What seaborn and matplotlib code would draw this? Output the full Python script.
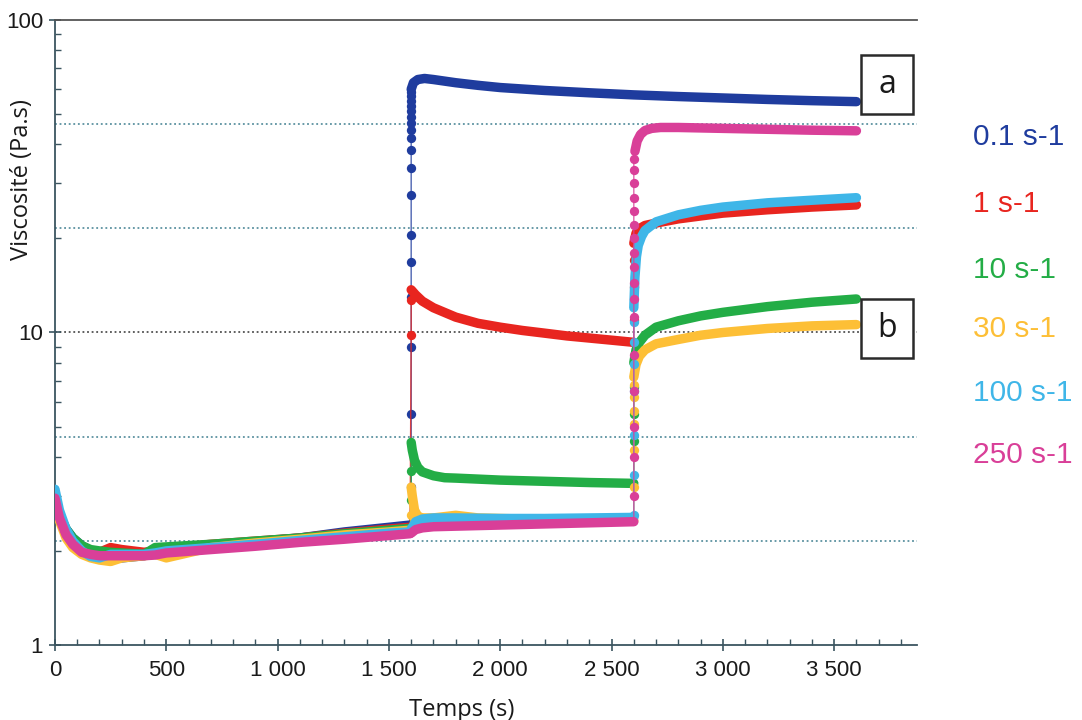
import seaborn as sns
import matplotlib.pyplot as plt
import pandas as pd
from matplotlib.ticker import FixedLocator, FuncFormatter, NullFormatter
from matplotlib.patches import Rectangle

# series labels and colours
names = ['0.1 s-1', '1 s-1', '10 s-1', '30 s-1', '100 s-1', '250 s-1']
colors = ['#1f3c9e', '#e8251f', '#23ad46', '#fdbf36', '#3fb6e8', '#d93f98']

# phase 1 : 0 - 1600 s (same time points for every run)
t_p1 = [0, 20, 50, 80, 120, 160, 200, 250, 300, 400, 450, 500, 700, 900, 1100, 1300, 1500, 1595]
blue_p1 = [2.8, 2.6, 2.35, 2.2, 2.08, 2.0, 1.95, 1.92, 1.9, 1.93, 1.98, 2.02, 2.08, 2.14, 2.2, 2.3, 2.38, 2.42]
red_p1 = [2.8, 2.55, 2.3, 2.15, 2.05, 2.0, 1.98, 2.05, 2.02, 1.98, 2.0, 2.03, 2.1, 2.15, 2.2, 2.28, 2.35, 2.38]
green_p1 = [2.85, 2.6, 2.35, 2.2, 2.08, 2.02, 2.0, 1.98, 1.97, 1.95, 2.05, 2.06, 2.1, 2.15, 2.2, 2.27, 2.33, 2.36]
orange_p1 = [2.9, 2.5, 2.2, 2.05, 1.95, 1.9, 1.87, 1.85, 1.9, 1.93, 1.95, 1.9, 2.05, 2.12, 2.18, 2.25, 2.3, 2.33]
lblue_p1 = [3.15, 2.7, 2.35, 2.15, 2.0, 1.92, 1.9, 1.95, 1.95, 1.95, 1.97, 2.0, 2.05, 2.1, 2.16, 2.22, 2.28, 2.3]
pink_p1 = [2.95, 2.55, 2.25, 2.1, 1.98, 1.95, 1.93, 1.93, 1.93, 1.93, 1.94, 1.97, 2.02, 2.07, 2.13, 2.18, 2.24, 2.27]

# jump at 1600 s (isolated points)
blue_j1 = [3.2, 5.5, 9, 13, 16.8, 20.5, 27.6, 33.6, 38.4, 41.9, 44.5, 46.8, 49, 51, 53, 55, 57, 59]
red_j1 = [9.8, 12.7]
green_j1 = [2.9, 3.6]
orange_j1 = [2.6]
lblue_j1 = []
pink_j1 = []

# phase 2 : 1600 - 2600 s
blue_t2 = [1600, 1610, 1630, 1660, 1700, 1800, 1900, 2000, 2200, 2400, 2600, 2800, 3000, 3200, 3400, 3600]
blue_v2 = [60, 63, 64.5, 65, 64.5, 63, 61.8, 60.8, 59.5, 58.5, 57.6, 56.9, 56.3, 55.7, 55.2, 54.8]
red_t2 = [1600, 1620, 1650, 1700, 1800, 1900, 2000, 2100, 2200, 2300, 2400, 2500, 2600]
red_v2 = [13.7, 13.2, 12.6, 12.0, 11.2, 10.7, 10.4, 10.15, 9.95, 9.75, 9.6, 9.45, 9.3]
green_t2 = [1600, 1605, 1615, 1630, 1650, 1700, 1750, 1800, 2000, 2200, 2400, 2600]
green_v2 = [4.45, 4.2, 3.9, 3.7, 3.58, 3.48, 3.43, 3.42, 3.37, 3.34, 3.31, 3.29]
orange_t2 = [1600, 1605, 1615, 1630, 1650, 1700, 1800, 1900, 2200, 2600]
orange_v2 = [3.2, 3.0, 2.7, 2.58, 2.55, 2.55, 2.6, 2.55, 2.52, 2.5]
lblue_t2 = [1600, 1620, 1650, 1700, 1800, 2000, 2200, 2400, 2600]
lblue_v2 = [2.35, 2.48, 2.53, 2.55, 2.55, 2.54, 2.54, 2.55, 2.56]
pink_t2 = [1600, 1620, 1650, 1700, 1800, 2000, 2200, 2400, 2600]
pink_v2 = [2.28, 2.34, 2.37, 2.39, 2.4, 2.42, 2.44, 2.46, 2.48]

# jump at 2600 s
blue_j2 = []
red_j2 = [11, 14, 17]
green_j2 = [4.5, 5.5, 6.7]
orange_j2 = [3.2, 4.2, 5.1, 5.6, 6.2, 6.8]
lblue_j2 = [2.6, 3.5, 4.7, 6.5, 7.9, 9.35, 10.8]
pink_j2 = [3, 4, 5, 6.5, 8.5, 11.2, 12.8, 14.4, 16.2, 18, 20, 22, 24.5, 27, 30, 33, 36]

# phase 3 : 2600 - 3600 s
blue_t3, blue_v3 = [], []
red_t3 = [2600, 2610, 2625, 2650, 2700, 2800, 2900, 3000, 3200, 3400, 3600]
red_v3 = [19.3, 20.8, 21.5, 22.0, 22.4, 23.1, 23.6, 24.1, 24.7, 25.2, 25.6]
green_t3 = [2600, 2610, 2625, 2650, 2700, 2800, 2900, 3000, 3200, 3400, 3600]
green_v3 = [8.0, 8.8, 9.3, 9.8, 10.4, 10.9, 11.3, 11.6, 12.1, 12.5, 12.8]
orange_t3 = [2600, 2610, 2625, 2650, 2700, 2800, 2900, 3000, 3200, 3400, 3600]
orange_v3 = [7.2, 7.9, 8.4, 8.8, 9.2, 9.5, 9.8, 10.0, 10.3, 10.5, 10.6]
lblue_t3 = [2600, 2605, 2612, 2620, 2635, 2650, 2700, 2800, 2900, 3000, 3200, 3400, 3600]
lblue_v3 = [12, 15, 17.5, 19.0, 20.3, 21.2, 22.6, 23.8, 24.6, 25.2, 26.0, 26.5, 27.0]
pink_t3 = [2605, 2615, 2630, 2650, 2680, 2720, 2800, 3000, 3200, 3400, 3600]
pink_v3 = [38, 41, 43, 44.3, 45, 45.3, 45.3, 45, 44.7, 44.4, 44.2]

runs = [
    (blue_p1, blue_j1, blue_t2, blue_v2, blue_j2, blue_t3, blue_v3),
    (red_p1, red_j1, red_t2, red_v2, red_j2, red_t3, red_v3),
    (green_p1, green_j1, green_t2, green_v2, green_j2, green_t3, green_v3),
    (orange_p1, orange_j1, orange_t2, orange_v2, orange_j2, orange_t3, orange_v3),
    (lblue_p1, lblue_j1, lblue_t2, lblue_v2, lblue_j2, lblue_t3, lblue_v3),
    (pink_p1, pink_j1, pink_t2, pink_v2, pink_j2, pink_t3, pink_v3),
]

axis_col = '#3b5560'

fig = plt.figure(figsize=(10.82, 7.2), dpi=100)
ax = fig.add_axes([0.0508, 0.1042, 0.7967, 0.868])
sns.set_style('white')

ax.set_yscale('log')
ax.set_xlim(0, 3872)
ax.set_ylim(1, 100)

# dotted grid lines
grid_levels = [2.154, 4.642, 21.54, 46.42]
ax.hlines(grid_levels, 0, 3872, colors='#3f7f90', linestyles=(0, (1.2, 1.8)), lw=1.1, zorder=1)
ax.hlines([10], 0, 3872, colors='#333333', linestyles=(0, (1.2, 1.8)), lw=1.1, zorder=1)

for k, (p1, j1, t2, v2, j2, t3, v3) in enumerate(runs):
    c = colors[k]
    # full thin trace
    tt = t_p1 + [1600] * len(j1) + t2 + [2600] * len(j2) + t3
    vv = p1 + j1 + v2 + j2 + v3
    sns.lineplot(x=tt, y=vv, color=c, lw=1, alpha=0.8, estimator=None, sort=False, ax=ax, zorder=3 + k)
    # dense measurement runs drawn as thick bands
    for ts, vs in [(t_p1, p1), (t2, v2), (t3, v3)]:
        if len(ts):
            sns.lineplot(x=ts, y=vs, color=c, lw=6.8, estimator=None, sort=False, ax=ax,
                         zorder=3 + k, solid_capstyle='round', solid_joinstyle='round')
    jt = [1600] * len(j1) + [2600] * len(j2)
    jv = j1 + j2
    if jt:
        sns.scatterplot(x=jt, y=jv, color=c, s=45, linewidth=0, ax=ax, zorder=3 + k)

# axes styling
ax.spines['right'].set_visible(False)
for side in ['left', 'bottom', 'top']:
    ax.spines[side].set_color(axis_col)
    ax.spines[side].set_linewidth(1.3)
ax.spines['top'].set_color('#555555')

ax.xaxis.set_major_locator(FixedLocator([0, 500, 1000, 1500, 2000, 2500, 3000, 3500]))
ax.xaxis.set_minor_locator(FixedLocator([m for m in range(100, 3900, 100) if m % 500]))
ax.xaxis.set_major_formatter(FuncFormatter(lambda x, p: f'{int(x):,}'.replace(',', ' ')))
ax.yaxis.set_major_locator(FixedLocator([1, 10, 100]))
ax.yaxis.set_minor_locator(FixedLocator([2, 3, 4, 5, 6, 7, 8, 9, 20, 30, 40, 50, 60, 70, 80, 90]))
ax.yaxis.set_major_formatter(FuncFormatter(lambda y, p: f'{int(y)}'))
ax.yaxis.set_minor_formatter(NullFormatter())

ax.tick_params(axis='both', which='major', direction='inout', length=9, width=1.2,
               color=axis_col, labelsize=16, labelcolor='#1a1a1a', pad=4,
               labelfontfamily='Liberation Sans')
ax.tick_params(axis='both', which='minor', direction='in', length=4, width=1.0, color=axis_col)
ax.tick_params(axis='x', which='major', pad=6)
ax.tick_params(top=False, right=False, which='both')

ax.set_xlabel('Temps (s)', fontsize=17, family='Open Sans', color='#1a1a1a')
ax.set_ylabel('Viscosité (Pa.s)', fontsize=17, family='Open Sans', color='#1a1a1a')
ax.yaxis.set_label_coords(-0.024, 0.745)
ax.xaxis.set_label_coords(0.472, -0.085)

# annotation boxes a and b
for label, yc in [('a', 0.8968), ('b', 0.5056)]:
    w, h = 0.0603, 0.0944
    ax.add_patch(Rectangle((0.9655 - w / 2, yc - h / 2), w, h, transform=ax.transAxes,
                           facecolor='white', edgecolor='#2a2a2a', lw=1.8, zorder=20, clip_on=False))
    ax.text(0.9655, yc, label, transform=ax.transAxes, ha='center', va='center',
            fontsize=23, family='Open Sans', color='#1a1a1a', zorder=21)

# coloured legend text
legend_y = [137, 204, 270, 329, 393, 455]
for name, c, yp in zip(names, colors, legend_y):
    fig.text(0.899, 1 - yp / 720, name, color=c, fontsize=21.5, family='Liberation Sans',
             ha='left', va='center')

fig.savefig('out.png', dpi=100, facecolor='white')
